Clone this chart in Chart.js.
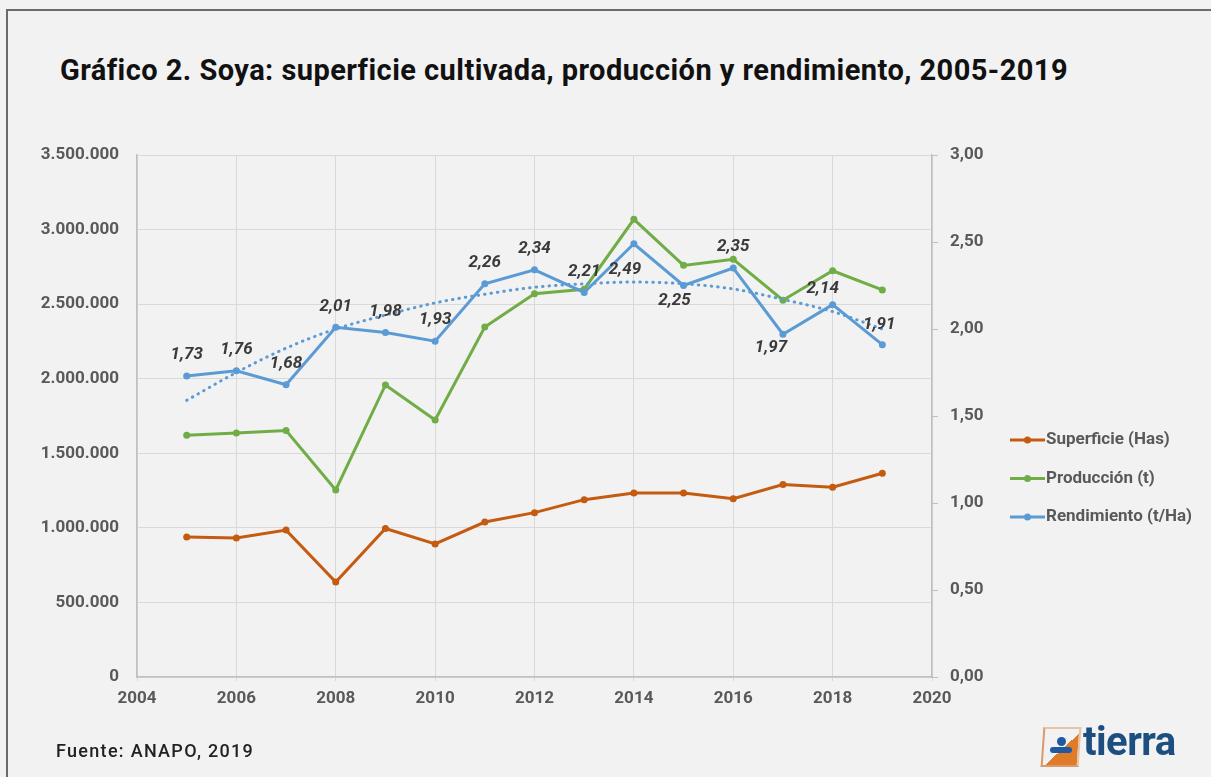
<!DOCTYPE html>
<html>
<head>
<meta charset="utf-8">
<script src="https://cdn.jsdelivr.net/npm/chart.js@4.4.1/dist/chart.umd.min.js"></script>
<style>
  html, body { margin:0; padding:0; background:#f2f2f2; }
  body { width:1211px; height:777px; position:relative; overflow:hidden; font-family:Roboto, sans-serif; }
  #frame { position:absolute; left:6px; top:9px; width:1220px; height:800px; border:2px solid #6b6b6b; box-sizing:border-box; }
  #title { position:absolute; left:60px; top:56px; font-size:29px; line-height:1; font-weight:700; color:#111; letter-spacing:0.45px; white-space:nowrap; }
  #source { position:absolute; left:56px; top:742px; font-size:18px; line-height:1; font-weight:500; color:#222; letter-spacing:1.3px; }
  #logo { position:absolute; left:1042px; top:721px; width:160px; height:50px; }
  #logo .icon { position:absolute; left:0; top:6px; width:34px; height:36px; border:2px solid #d99a6c; border-right-color:#e8c3a5; border-top-color:#e8c3a5; background:linear-gradient(135deg, #f2f2f2 55%, #e07b2a 55%); transform:skew(-4deg); }
  #logo .dot { position:absolute; left:15px; top:16px; width:9px; height:9px; border-radius:50%; background:#1f5aa0; }
  #logo .bar { position:absolute; left:8px; top:26px; width:22px; height:6px; border-radius:3px; background:#1f5aa0; }
  #logo .word { position:absolute; left:41px; top:-3px; font-size:40px; font-weight:700; color:#1c4f80; letter-spacing:-0.5px; }
  #c { position:absolute; left:0; top:0; }
</style>
</head>
<body>
<div id="frame"></div>
<div id="title">Gráfico 2. Soya: superficie cultivada, producción y rendimiento, 2005-2019</div>
<canvas id="c" width="1211" height="777"></canvas>
<div id="source">Fuente: ANAPO, 2019</div>
<div id="logo"><div class="icon"></div><div class="dot"></div><div class="bar"></div><div class="word">tierra</div></div>
<script>
// data
const YEARS = [2005,2006,2007,2008,2009,2010,2011,2012,2013,2014,2015,2016,2017,2018,2019];
const SUPERFICIE = [939000,932000,985000,637000,996000,892000,1039000,1102000,1189000,1234000,1234000,1196000,1290000,1272000,1366000];
const PRODUCCION = [1621000,1636000,1652000,1254000,1958000,1723000,2347000,2570000,2600000,3069000,2760000,2801000,2526000,2724000,2595000];
const RENDIMIENTO = [1.73,1.76,1.68,2.01,1.98,1.93,2.26,2.34,2.21,2.49,2.25,2.35,1.97,2.14,1.91];
const TENDENCIA = [1.59,1.75,1.89,2.00,2.08,2.15,2.20,2.24,2.26,2.27,2.26,2.23,2.17,2.10,2.00];
const LABELS = ['Superficie (Has)','Producción (t)','Rendimiento (t/Ha)'];

// label offsets (dx, dy) relative to each rendimiento point
const LABEL_POS = [[0,-21],[0,-21],[0,-21],[0,-21],[0,-21],[0,-21],[0,-21],[0,-21],[0,-21],[-9,26],[-9,15],[0,-21],[-12,14],[-10,-16],[-3,-20]];

const pts = arr => YEARS.map((x,i)=>({x, y:arr[i]}));
const ORANGE = '#c55a11', GREEN = '#70ad47', BLUE = '#5b9bd5';

function miles(v){ return String(Math.round(v)).replace(/\B(?=(\d{3})+(?!\d))/g,'.'); }

const labelPlugin = {
  id:'rendLabels',
  afterDatasetsDraw(chart){
    const ctx = chart.ctx;
    const meta = chart.getDatasetMeta(2);
    ctx.save();
    ctx.font = 'italic 700 17px Roboto';
    ctx.fillStyle = '#3a3a3a';
    ctx.textAlign = 'center';
    ctx.textBaseline = 'middle';
    meta.data.forEach((p,i)=>{
      const o = LABEL_POS[i];
      ctx.fillText(RENDIMIENTO[i].toFixed(2).replace('.',','), p.x+o[0], p.y+o[1]);
    });
    ctx.restore();
  }
};

const legendPlugin = {
  id:'sideLegend',
  afterDraw(chart){
    const ctx = chart.ctx;
    ctx.save();
    ctx.font = '700 17px Roboto';
    ctx.textBaseline = 'middle';
    [0,1,2].forEach((d,i)=>{
      const ds = chart.data.datasets[d];
      const y = 440 + i*38.5;
      ctx.strokeStyle = ds.borderColor; ctx.lineWidth = 3;
      ctx.beginPath(); ctx.moveTo(1010,y); ctx.lineTo(1045,y); ctx.stroke();
      ctx.fillStyle = ds.borderColor;
      ctx.beginPath(); ctx.arc(1027.5,y,3.5,0,Math.PI*2); ctx.fill();
      ctx.fillStyle = '#595959';
      ctx.fillText(LABELS[d], 1046, y);
    });
    ctx.restore();
  }
};

const line = (label, data, color, axis, order) => ({
  label, data: pts(data), yAxisID: axis, order,
  borderColor: color, backgroundColor: color, borderWidth: 3,
  pointRadius: 3.5, pointBackgroundColor: color, pointBorderWidth: 0, tension: 0
});

const tickFont = {family:'Roboto', size:17, weight:'700'};

new Chart(document.getElementById('c'), {
  type:'line',
  data:{ datasets:[
    line(LABELS[0], SUPERFICIE, ORANGE, 'y', 3),
    line(LABELS[1], PRODUCCION, GREEN, 'y', 2),
    line(LABELS[2], RENDIMIENTO, BLUE, 'y2', 1),
    { label:'Tendencia', data: pts(TENDENCIA), yAxisID:'y2', order:0, borderColor:BLUE, borderWidth:3,
      borderDash:[0.5,6], borderCapStyle:'round', pointRadius:0, cubicInterpolationMode:'monotone', fill:false }
  ]},
  options:{
    responsive:false, animation:false,
    layout:{ padding:{ left:0, top:155, right:209, bottom:70 } },
    plugins:{ legend:{display:false}, tooltip:{enabled:false} },
    scales:{
      x:{ type:'linear', min:2004, max:2020,
        afterFit: s => { s.height = 30; },
        ticks:{ stepSize:2, callback:v=>String(v), color:'#595959', font:tickFont, padding:8 },
        grid:{ color:'#d9d9d9', lineWidth:1, tickLength:4 },
        border:{ color:'#bfbfbf', width:1.5 } },
      y:{ position:'left', min:0, max:3500000,
        afterFit: s => { s.width = 137; },
        ticks:{ stepSize:500000, callback:v=>miles(v), color:'#595959', font:tickFont, padding:18 },
        grid:{ color:'#d9d9d9', lineWidth:1, tickLength:0 },
        border:{ color:'#bfbfbf', width:1.5 } },
      y2:{ position:'right', min:0, max:3,
        afterFit: s => { s.width = 70; },
        ticks:{ stepSize:0.5, callback:v=>v.toFixed(2).replace('.',','), color:'#595959', font:tickFont, padding:12 },
        grid:{ drawOnChartArea:false, tickLength:6, color:'#bfbfbf' },
        border:{ color:'#bfbfbf', width:1.5 } }
    }
  },
  plugins:[labelPlugin, legendPlugin]
});
</script>
</body>
</html>
